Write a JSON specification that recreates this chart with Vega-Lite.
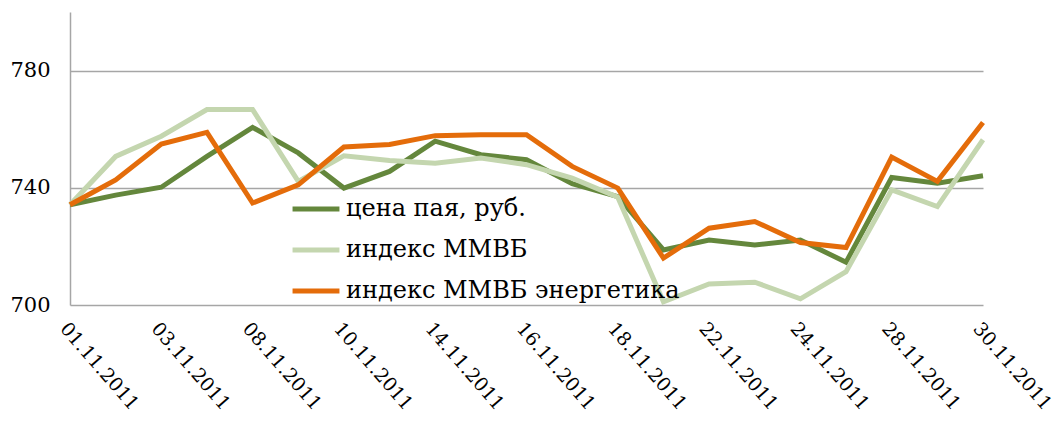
{
  "$schema": "https://vega.github.io/schema/vega-lite/v6.json",
  "autosize": {"type": "none"},
  "padding": {"left": 70, "top": 12, "right": 80, "bottom": 121},
  "width": 913,
  "height": 293,
  "background": "white",
  "config": {
    "view": {"stroke": null},
    "font": "DejaVu Serif"
  },
  "data": {
    "values": [
      {"date": "01.11.2011", "series": "цена пая, руб.", "value": 734.2},
      {"date": "02.11.2011", "series": "цена пая, руб.", "value": 737.5},
      {"date": "03.11.2011", "series": "цена пая, руб.", "value": 740.2},
      {"date": "07.11.2011", "series": "цена пая, руб.", "value": 750.7},
      {"date": "08.11.2011", "series": "цена пая, руб.", "value": 760.6},
      {"date": "09.11.2011", "series": "цена пая, руб.", "value": 751.9},
      {"date": "10.11.2011", "series": "цена пая, руб.", "value": 739.9},
      {"date": "11.11.2011", "series": "цена пая, руб.", "value": 745.6},
      {"date": "14.11.2011", "series": "цена пая, руб.", "value": 755.9},
      {"date": "15.11.2011", "series": "цена пая, руб.", "value": 751.3},
      {"date": "16.11.2011", "series": "цена пая, руб.", "value": 749.6},
      {"date": "17.11.2011", "series": "цена пая, руб.", "value": 741.4},
      {"date": "18.11.2011", "series": "цена пая, руб.", "value": 737.0},
      {"date": "21.11.2011", "series": "цена пая, руб.", "value": 718.8},
      {"date": "22.11.2011", "series": "цена пая, руб.", "value": 722.2},
      {"date": "23.11.2011", "series": "цена пая, руб.", "value": 720.5},
      {"date": "24.11.2011", "series": "цена пая, руб.", "value": 722.2},
      {"date": "25.11.2011", "series": "цена пая, руб.", "value": 714.6},
      {"date": "28.11.2011", "series": "цена пая, руб.", "value": 743.5},
      {"date": "29.11.2011", "series": "цена пая, руб.", "value": 741.6},
      {"date": "30.11.2011", "series": "цена пая, руб.", "value": 744.1},
      {"date": "01.11.2011", "series": "индекс ММВБ", "value": 734.2},
      {"date": "02.11.2011", "series": "индекс ММВБ", "value": 750.7},
      {"date": "03.11.2011", "series": "индекс ММВБ", "value": 757.6},
      {"date": "07.11.2011", "series": "индекс ММВБ", "value": 766.7},
      {"date": "08.11.2011", "series": "индекс ММВБ", "value": 766.7},
      {"date": "09.11.2011", "series": "индекс ММВБ", "value": 742.2},
      {"date": "10.11.2011", "series": "индекс ММВБ", "value": 750.9},
      {"date": "11.11.2011", "series": "индекс ММВБ", "value": 749.3},
      {"date": "14.11.2011", "series": "индекс ММВБ", "value": 748.4},
      {"date": "15.11.2011", "series": "индекс ММВБ", "value": 750.2},
      {"date": "16.11.2011", "series": "индекс ММВБ", "value": 747.9},
      {"date": "17.11.2011", "series": "индекс ММВБ", "value": 743.3},
      {"date": "18.11.2011", "series": "индекс ММВБ", "value": 736.8},
      {"date": "21.11.2011", "series": "индекс ММВБ", "value": 701.1},
      {"date": "22.11.2011", "series": "индекс ММВБ", "value": 707.2},
      {"date": "23.11.2011", "series": "индекс ММВБ", "value": 707.8},
      {"date": "24.11.2011", "series": "индекс ММВБ", "value": 702.1},
      {"date": "25.11.2011", "series": "индекс ММВБ", "value": 711.4},
      {"date": "28.11.2011", "series": "индекс ММВБ", "value": 739.3},
      {"date": "29.11.2011", "series": "индекс ММВБ", "value": 733.6},
      {"date": "30.11.2011", "series": "индекс ММВБ", "value": 756.4},
      {"date": "01.11.2011", "series": "индекс ММВБ энергетика", "value": 734.2},
      {"date": "02.11.2011", "series": "индекс ММВБ энергетика", "value": 742.7},
      {"date": "03.11.2011", "series": "индекс ММВБ энергетика", "value": 754.9},
      {"date": "07.11.2011", "series": "индекс ММВБ энергетика", "value": 758.9},
      {"date": "08.11.2011", "series": "индекс ММВБ энергетика", "value": 734.8},
      {"date": "09.11.2011", "series": "индекс ММВБ энергетика", "value": 741.0},
      {"date": "10.11.2011", "series": "индекс ММВБ энергетика", "value": 753.9},
      {"date": "11.11.2011", "series": "индекс ММВБ энергетика", "value": 754.8},
      {"date": "14.11.2011", "series": "индекс ММВБ энергетика", "value": 757.8},
      {"date": "15.11.2011", "series": "индекс ММВБ энергетика", "value": 758.1},
      {"date": "16.11.2011", "series": "индекс ММВБ энергетика", "value": 758.1},
      {"date": "17.11.2011", "series": "индекс ММВБ энергетика", "value": 747.3},
      {"date": "18.11.2011", "series": "индекс ММВБ энергетика", "value": 739.9},
      {"date": "21.11.2011", "series": "индекс ММВБ энергетика", "value": 716.0},
      {"date": "22.11.2011", "series": "индекс ММВБ энергетика", "value": 726.2},
      {"date": "23.11.2011", "series": "индекс ММВБ энергетика", "value": 728.5},
      {"date": "24.11.2011", "series": "индекс ММВБ энергетика", "value": 721.3},
      {"date": "25.11.2011", "series": "индекс ММВБ энергетика", "value": 719.6},
      {"date": "28.11.2011", "series": "индекс ММВБ энергетика", "value": 750.5},
      {"date": "29.11.2011", "series": "индекс ММВБ энергетика", "value": 742.2},
      {"date": "30.11.2011", "series": "индекс ММВБ энергетика", "value": 762.3}
    ]
  },
  "mark": {"type": "line", "strokeWidth": 5, "strokeJoin": "miter"},
  "encoding": {
    "x": {
      "field": "date",
      "type": "ordinal",
      "sort": null,
      "scale": {"type": "point", "padding": 0},
      "axis": {
        "title": null,
        "values": ["01.11.2011", "03.11.2011", "08.11.2011", "10.11.2011", "14.11.2011", "16.11.2011", "18.11.2011", "22.11.2011", "24.11.2011", "28.11.2011", "30.11.2011"],
        "labelAngle": 49,
        "labelAlign": "left",
        "labelBaseline": "top",
        "labelFont": "DejaVu Serif",
        "labelFontSize": 19,
        "labelColor": "black",
        "labelPadding": 14,
        "domain": false,
        "ticks": false,
        "grid": false
      }
    },
    "y": {
      "field": "value",
      "type": "quantitative",
      "scale": {"domain": [700, 800], "zero": false, "nice": false},
      "axis": {
        "title": null,
        "values": [700, 740, 780],
        "labelFont": "DejaVu Serif",
        "labelFontSize": 21,
        "labelColor": "black",
        "labelPadding": 20,
        "ticks": false,
        "domain": true,
        "domainColor": "#a6a6a6",
        "domainWidth": 1.5,
        "grid": true,
        "gridColor": "#a6a6a6",
        "gridWidth": 1.5
      }
    },
    "color": {
      "field": "series",
      "type": "nominal",
      "sort": null,
      "scale": {
        "domain": ["цена пая, руб.", "индекс ММВБ", "индекс ММВБ энергетика"],
        "range": ["#64873C", "#C4D6AF", "#E46C0A"]
      },
      "legend": {
        "title": null,
        "orient": "none",
        "legendX": 218,
        "legendY": 169,
        "padding": 2,
        "symbolType": "stroke",
        "symbolSize": 2200,
        "symbolStrokeWidth": 5,
        "labelFont": "DejaVu Serif",
        "labelFontSize": 24,
        "labelColor": "black",
        "labelOffset": 4,
        "rowPadding": 3,
        "labelLimit": 600
      }
    }
  }
}
